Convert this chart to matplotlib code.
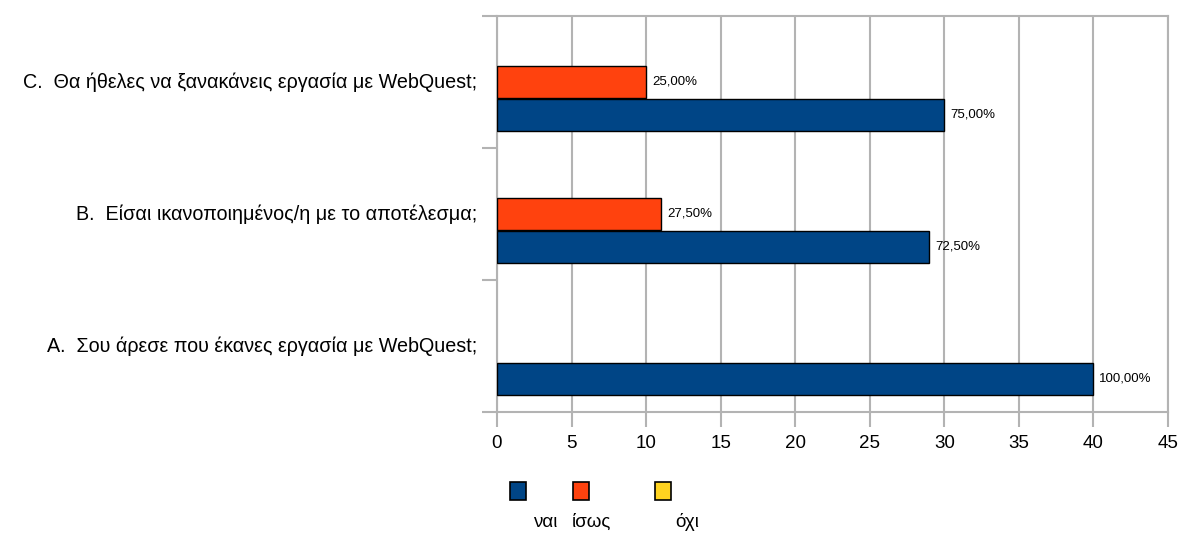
import matplotlib
matplotlib.use('Agg')
import matplotlib.pyplot as plt
from matplotlib.patches import Rectangle
from matplotlib.transforms import blended_transform_factory

plt.rcParams['font.family'] = ['Liberation Sans', 'DejaVu Sans']

questions = [
    'A.  Σου άρεσε που έκανες εργασία με WebQuest;',
    'B.  Είσαι ικανοποιημένος/η με το αποτέλεσμα;',
    'C.  Θα ήθελες να ξανακάνεις εργασία με WebQuest;',
]
series_names = ['ναι', 'ίσως', 'όχι']
nai = [40, 29, 30]
isos = [0, 11, 10]
oxi = [0, 0, 0]
total = 40

colors = ['#004586', '#ff420e', '#ffd320']
grey = '#b3b3b3'

fig = plt.figure(figsize=(11.79, 5.33), dpi=100)
ax = fig.add_axes([497 / 1179, 1 - 411.7 / 533, 671 / 1179, 395.7 / 533])

h = 0.245
offsets = [-0.25, 0.0, 0.25]
for vals, off, col in zip([nai, isos, oxi], offsets, colors):
    ys = [i + off for i, v in enumerate(vals) if v > 0]
    xs = [v for v in vals if v > 0]
    if not xs:
        continue
    ax.barh(ys, xs, height=h, color=col, edgecolor='black', linewidth=1.0, zorder=3)
    for y, v in zip(ys, xs):
        pct = ('%.2f%%' % (v / total * 100)).replace('.', ',')
        ax.text(v + 0.4, y, pct, va='center', ha='left', fontsize=9.5, zorder=4)

ax.set_xlim(0, 45)
ax.set_ylim(-0.5, 2.5)
ax.set_xticks(range(0, 46, 5))
ax.set_xticklabels([str(t) for t in range(0, 46, 5)], fontsize=13.5)
ax.set_yticks([-0.5, 0.5, 1.5, 2.5])
ax.set_yticklabels([])
ax.tick_params(axis='both', direction='out', length=11, width=1.5, color=grey, pad=6)
ax.grid(axis='x', color=grey, linewidth=1.5, zorder=0)
for s in ax.spines.values():
    s.set_color(grey)
    s.set_linewidth(1.5)

# question labels, right aligned a little left of the axis
lab_tr = blended_transform_factory(fig.transFigure, ax.transData)
for i, q in enumerate(questions):
    ax.text(477 / 1179, i, q, transform=lab_tr, ha='right', va='center', fontsize=14.2)

# legend: squares above names
sq_x = [510, 573, 655]
lab_x = [533, 572, 675]
for sx, lx, col, name in zip(sq_x, lab_x, colors, series_names):
    fig.add_artist(Rectangle((sx / 1179, 1 - 500 / 533), 16 / 1179, 18 / 533,
                             transform=fig.transFigure, facecolor=col,
                             edgecolor='black', linewidth=1.2))
    fig.text(lx / 1179, 1 - 531 / 533, name, ha='left', va='bottom', fontsize=13.5)

fig.savefig('out.png', dpi=100)
